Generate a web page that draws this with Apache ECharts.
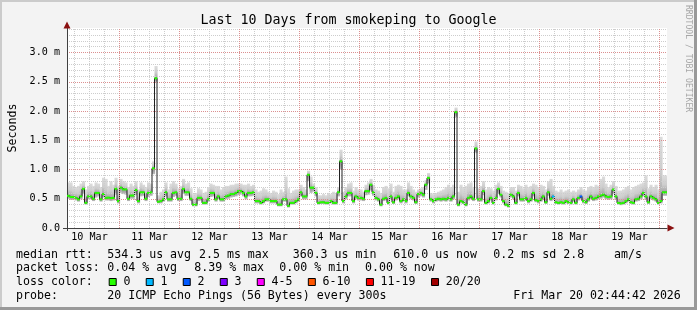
<!DOCTYPE html>
<html><head><meta charset="utf-8">
<script src="https://cdn.jsdelivr.net/npm/echarts@6/dist/echarts.min.js"></script>
<style>html,body{margin:0;padding:0;background:#f3f3f3}#c{width:697px;height:310px}</style>
</head><body><div id="c"></div>
<script>
// ---------------- data ----------------
const chartTitle = 'Last 10 Days from smokeping to Google';
const yAxisTitle = 'Seconds';
const watermark = 'RRDTOOL / TOBI OETIKER';
const dayLabels = ['10 Mar','11 Mar','12 Mar','13 Mar','14 Mar','15 Mar','16 Mar','17 Mar','18 Mar','19 Mar'];
const dayLabelHours = [12,36,60,84,108,132,156,180,204,228];   // hours since 10 Mar 00:00 (noon of each day)
const dayStartHours = [24,48,72,96,120,144,168,192,216,240];   // midnights
const yTickValues = [0,0.5,1.0,1.5,2.0,2.5,3.0];
const yTickLabels = ['0.0','0.5 m','1.0 m','1.5 m','2.0 m','2.5 m','3.0 m'];
const viewStartHour = 3, viewEndHour = 243;  // graph window, hours since 10 Mar 00:00
const dataStartHour = 3;                     // first hourly sample, hours since 10 Mar 00:00
const yMax = 3.42;                           // ms

// median round trip time per hour (ms)
const medianRtt = [
0.55,0.53,0.53,0.515,0.49,0.54,0.67,0.43,0.54,0.54,
0.50,0.60,0.60,0.49,0.58,0.515,0.52,0.51,0.515,0.67,
0.46,0.69,0.66,0.66,0.50,0.555,0.555,0.65,0.46,0.61,
0.61,0.50,0.60,0.61,1.02,2.56,0.45,0.46,0.49,0.61,
0.49,0.49,0.60,0.61,0.50,0.50,0.67,0.61,0.61,0.50,
0.40,0.40,0.515,0.515,0.43,0.43,0.49,0.60,0.60,0.49,
0.54,0.49,0.49,0.54,0.555,0.58,0.58,0.60,0.63,0.63,
0.60,0.54,0.60,0.60,0.61,0.46,0.46,0.43,0.46,0.49,
0.49,0.46,0.46,0.46,0.40,0.40,0.49,0.49,0.38,0.43,
0.43,0.46,0.49,0.61,0.54,0.54,0.91,0.69,0.69,0.60,
0.43,0.44,0.44,0.43,0.43,0.46,0.43,0.43,0.61,1.14,
0.46,0.54,0.60,0.60,0.46,0.54,0.515,0.515,0.50,0.63,
0.63,0.74,0.61,0.515,0.49,0.40,0.50,0.515,0.43,0.54,
0.44,0.515,0.54,0.46,0.49,0.46,0.60,0.54,0.515,0.44,
0.58,0.60,0.57,0.74,0.856,0.49,0.46,0.49,0.50,0.49,
0.50,0.49,0.515,0.49,0.54,1.98,0.40,0.46,0.44,0.40,
0.515,0.54,0.50,1.36,0.49,0.49,0.63,0.43,0.46,0.515,
0.43,0.515,0.67,0.57,0.46,0.40,0.38,0.57,0.54,0.43,
0.60,0.49,0.49,0.515,0.46,0.49,0.60,0.475,0.46,0.49,
0.54,0.44,0.61,0.50,0.54,0.44,0.43,0.44,0.43,0.46,
0.44,0.43,0.49,0.43,0.515,0.54,0.46,0.44,0.49,0.54,
0.50,0.515,0.54,0.555,0.57,0.54,0.53,0.54,0.657,0.54,
0.43,0.42,0.43,0.46,0.49,0.44,0.43,0.49,0.50,0.54,
0.60,0.54,0.44,0.54,0.515,0.49,0.43,0.46,0.61,0.61
];
// highest ping per hour (ms) - top of the smoke
const smokeHi = [
0.78,0.78,0.72,0.70,0.72,0.76,0.80,0.66,0.72,0.76,
0.72,0.78,0.76,0.70,0.86,0.84,0.72,0.80,0.74,0.86,
0.72,0.84,0.80,0.78,0.70,0.76,0.72,0.80,0.66,0.78,
0.74,0.70,0.78,0.76,1.14,2.77,0.56,0.62,0.66,0.78,
0.66,0.76,0.80,0.76,0.68,0.72,0.84,0.76,0.78,0.68,
0.58,0.60,0.68,0.66,0.60,0.62,0.70,0.76,0.74,0.72,
0.72,0.66,0.70,0.72,0.72,0.74,0.74,0.76,0.76,0.76,
0.74,0.74,0.76,0.72,0.74,0.66,0.62,0.64,0.68,0.66,
0.62,0.60,0.64,0.62,0.58,0.66,0.62,0.88,0.68,0.60,
0.64,0.66,0.66,0.74,0.70,0.66,0.98,0.88,0.76,0.70,
0.56,0.56,0.58,0.56,0.60,0.58,0.62,0.58,0.70,1.34,
0.62,0.70,0.76,0.78,0.64,0.70,0.66,0.66,0.62,0.74,
0.78,0.84,0.74,0.66,0.64,0.60,0.70,0.72,0.68,0.76,
0.62,0.72,0.74,0.72,0.66,0.66,0.78,0.72,0.66,0.62,
0.66,0.68,0.70,0.82,0.94,0.60,0.58,0.60,0.62,0.64,
0.66,0.70,0.74,0.70,0.74,2.06,0.62,0.74,0.70,0.72,
0.76,0.78,0.70,1.48,0.68,0.72,0.80,0.66,0.70,0.68,
0.64,0.74,0.78,0.72,0.64,0.62,0.60,0.70,0.70,0.64,
0.74,0.72,0.68,0.74,0.70,0.72,0.76,0.74,0.70,0.74,
0.72,0.66,0.80,0.84,0.72,0.64,0.62,0.66,0.62,0.64,
0.66,0.62,0.64,0.62,0.66,0.70,0.66,0.64,0.70,0.72,
0.70,0.74,0.72,0.84,0.88,0.76,0.70,0.74,0.80,0.72,
0.64,0.64,0.66,0.70,0.72,0.66,0.70,0.72,0.74,0.76,
0.78,0.90,0.68,0.74,0.70,0.74,0.66,1.56,0.90,0.90
];
// lowest ping per hour (ms) - bottom of the smoke
const smokeLo = [
0.50,0.48,0.48,0.47,0.45,0.49,0.58,0.40,0.49,0.49,
0.46,0.52,0.54,0.45,0.52,0.47,0.47,0.46,0.47,0.57,
0.42,0.60,0.58,0.57,0.46,0.50,0.50,0.56,0.42,0.54,
0.55,0.46,0.53,0.55,0.92,2.50,0.42,0.42,0.45,0.54,
0.45,0.45,0.53,0.55,0.46,0.46,0.58,0.55,0.55,0.46,
0.37,0.37,0.46,0.47,0.40,0.40,0.45,0.53,0.54,0.45,
0.49,0.45,0.45,0.49,0.50,0.52,0.53,0.54,0.56,0.57,
0.54,0.49,0.54,0.54,0.55,0.42,0.42,0.40,0.42,0.45,
0.45,0.42,0.42,0.42,0.37,0.37,0.45,0.45,0.35,0.40,
0.40,0.42,0.45,0.54,0.49,0.49,0.80,0.60,0.62,0.54,
0.40,0.41,0.41,0.40,0.40,0.42,0.40,0.40,0.54,1.00,
0.42,0.49,0.54,0.54,0.42,0.49,0.47,0.47,0.46,0.56,
0.57,0.64,0.55,0.47,0.45,0.37,0.46,0.47,0.40,0.49,
0.41,0.47,0.49,0.42,0.45,0.42,0.54,0.49,0.47,0.41,
0.52,0.54,0.52,0.65,0.76,0.45,0.42,0.45,0.46,0.45,
0.46,0.45,0.47,0.45,0.49,1.90,0.37,0.42,0.41,0.37,
0.47,0.49,0.46,1.28,0.45,0.45,0.56,0.40,0.42,0.47,
0.40,0.47,0.58,0.52,0.42,0.37,0.35,0.52,0.49,0.40,
0.54,0.45,0.45,0.47,0.42,0.45,0.54,0.44,0.42,0.45,
0.49,0.41,0.55,0.46,0.49,0.41,0.40,0.41,0.40,0.42,
0.41,0.40,0.45,0.40,0.47,0.49,0.42,0.41,0.45,0.49,
0.46,0.47,0.49,0.50,0.52,0.49,0.48,0.49,0.58,0.49,
0.40,0.39,0.40,0.42,0.45,0.41,0.40,0.45,0.46,0.49,
0.54,0.49,0.41,0.49,0.47,0.45,0.40,0.42,0.55,0.55
];
// lost pings (of 20) per hour
const lostPings = [
0,0,0,0,0,0,0,0,0,0,0,0,0,0,0,0,0,0,0,0,
0,0,0,0,0,0,0,0,0,0,0,0,0,0,0,0,0,0,0,0,
0,0,0,0,0,0,0,0,0,0,0,0,0,0,0,0,0,0,0,0,
0,0,0,0,0,0,0,0,0,0,0,0,0,0,0,0,0,0,0,0,
0,0,0,0,0,0,0,0,0,0,0,0,0,0,0,0,0,0,0,0,
0,0,0,0,0,0,0,0,0,0,0,0,0,0,0,0,0,0,0,0,
0,0,0,0,0,0,0,0,0,0,0,0,0,0,0,0,0,0,0,0,
0,0,0,0,0,0,0,0,0,0,0,0,0,0,0,0,0,0,0,0,
0,0,0,0,0,0,0,0,0,0,0,0,0,0,0,0,0,0,0,0,
0,0,0,0,0,0,0,0,0,0,0,0,0,0,1,0,0,0,0,0,
0,0,0,0,0,2,0,0,0,0,0,0,0,0,0,0,0,0,0,0,
0,0,0,0,0,0,0,0,0,0,0,0,0,0,0,0,0,0,0,0
];
// loss colour legend: [label, max lost pings in bin, colour]
const lossBins = [['0',0,'#26ff00'],['1',1,'#00b8ff'],['2',2,'#0059ff'],['3',3,'#7e00ff'],
                  ['4-5',5,'#ff00ff'],['6-10',10,'#ff5500'],['11-19',19,'#ff0000'],['20/20',20,'#a10000']];
const statRows = [
  ['median rtt:', ['534.3 us avg','2.5 ms max','360.3 us min','610.0 us now','0.2 ms sd','2.8','am/s']],
  ['packet loss:', ['0.04 % avg','8.39 % max','0.00 % min','0.00 % now']],
  ['loss color:', []],
  ['probe:', ['20 ICMP Echo Pings (56 Bytes) every 300s','Fri Mar 20 02:44:42 2026']]
];

// ---------------- layout / style ----------------
const FONT = '"DejaVu Sans Mono", monospace';
const FS = 11.6, AFS = 10.1;
const rowY = [254.5, 268.3, 282.3, 296];
const statX = [[107.3,199,292.7,393.3,493.3,563.3,614],[107.3,194.3,279.3,365],[],[107.3,513.3]];
const MINOR = '#cdcdcd', MAJOR = '#db9090';

function lossColor(n){ for (const b of lossBins) if (n <= b[1]) return b[2]; return lossBins[lossBins.length-1][2]; }

const smokeData = medianRtt.map((m,i)=>[dataStartHour+i, smokeLo[i], smokeHi[i], m]);
const bandData = medianRtt.map((m,i)=>[dataStartHour+i, m, lostPings[i]]);
const lineData = medianRtt.map((m,i)=>[dataStartHour+i, m]);
lineData.push([dataStartHour+medianRtt.length, medianRtt[medianRtt.length-1]]);

// vertical grid: every 6 h (minor), midnights (major)
const vGrid = [];
for (let h=6; h<viewEndHour; h+=6) {
  if (h <= viewStartHour) continue;
  const major = dayStartHours.indexOf(h) >= 0;
  vGrid.push({xAxis:h, lineStyle:{color: major ? MAJOR : MINOR, width:1, type:[1,1]}});
}

const chart = echarts.init(document.getElementById('c'), null, {renderer:'canvas'});

const graphics = [];
// frame
graphics.push({type:'rect', shape:{x:0,y:0,width:697,height:2}, style:{fill:'#cbcbcb'}});
graphics.push({type:'rect', shape:{x:0,y:0,width:2,height:310}, style:{fill:'#cbcbcb'}});
graphics.push({type:'rect', shape:{x:694,y:0,width:3,height:310}, style:{fill:'#999999'}});
graphics.push({type:'rect', shape:{x:0,y:307,width:697,height:3}, style:{fill:'#999999'}});
// watermark
graphics.push({type:'text', x:688.5, y:5, rotation:-Math.PI/2,
  style:{text:watermark, font:'8.1px '+FONT, fill:'#a6a6a6', align:'left', verticalAlign:'middle'}});
// stats
statRows.forEach((r,ri)=>{
  graphics.push({type:'text', style:{text:r[0], x:16, y:rowY[ri], font:FS+'px '+FONT, fill:'#000', verticalAlign:'middle'}});
  r[1].forEach((t,k)=>graphics.push({type:'text', style:{text:t, x:statX[ri][k], y:rowY[ri], font:FS+'px '+FONT, fill:'#000', verticalAlign:'middle'}}));
});
// loss colour legend
let lx = 108.7;
lossBins.forEach(b=>{
  graphics.push({type:'rect', shape:{x:lx+0.5, y:278.5, width:7, height:7}, style:{fill:b[2], stroke:'#000', lineWidth:1}});
  graphics.push({type:'text', style:{text:b[0], x:lx+14.7, y:rowY[2], font:FS+'px '+FONT, fill:'#000', verticalAlign:'middle'}});
  lx += 14.7 + b[0].length*7.02 + 15.3;
});

const axisCommon = {type:'value', min:viewStartHour, max:viewEndHour, position:'bottom', z:2};
const option = {
  animation:false,
  backgroundColor:'#f3f3f3',
  title:{text:chartTitle, left:'center', top:9, textStyle:{fontFamily:FONT, fontSize:13.3, fontWeight:'normal', color:'#000'}},
  grid:{left:67, top:28, width:600, height:200, show:true, backgroundColor:'#ffffff', borderWidth:0,
        containLabel:false, outerBoundsMode:'none'},
  xAxis:[
    Object.assign({}, axisCommon, {
      axisLine:{show:true, lineStyle:{color:'#404040', width:1}},
      axisTick:{show:false}, axisLabel:{show:false}, splitLine:{show:false}
    }),
    Object.assign({}, axisCommon, {
      axisLine:{show:true, symbol:['none','triangle'], symbolSize:[7,7], symbolOffset:[0,4], lineStyle:{color:'#8a1010', width:0}},
      axisTick:{show:false},
      axisLabel:{show:true, customValues:dayLabelHours, margin:4, fontFamily:FONT, fontSize:AFS, color:'#000',
        formatter:(v)=>dayLabels[dayLabelHours.indexOf(Math.round(v))]},
      splitLine:{show:false}
    }),
    Object.assign({}, axisCommon, {
      axisLine:{show:false}, axisLabel:{show:false}, splitLine:{show:false},
      axisTick:{show:true, customValues:[viewStartHour], length:3, lineStyle:{color:'#404040'}}
    })
  ],
  yAxis:[
    {type:'value', min:0, max:yMax, interval:0.1, position:'left', z:2,
      axisLine:{show:true, lineStyle:{color:'#404040', width:1}},
      axisTick:{show:false}, axisLabel:{show:false},
      splitLine:{show:true, showMinLine:false, showMaxLine:false, lineStyle:{color:MINOR, width:1, type:[1,1]}}},
    {type:'value', min:0, max:yMax, interval:0.5, position:'left', z:2,
      name:yAxisTitle, nameLocation:'middle', nameRotate:90, nameGap:46,
      nameTextStyle:{fontFamily:FONT, fontSize:FS, color:'#000'},
      axisLine:{show:true, symbol:['none','triangle'], symbolSize:[7,7], symbolOffset:[0,3], lineStyle:{color:'#8a1010', width:0}},
      axisTick:{show:false},
      axisLabel:{show:true, showMaxLabel:false, margin:7, fontFamily:FONT, fontSize:AFS, color:'#000',
        formatter:(v)=>{const k=yTickValues.findIndex(t=>Math.abs(t-v)<1e-6); return k<0?'':yTickLabels[k];}},
      splitLine:{show:true, showMinLine:false, showMaxLine:false, lineStyle:{color:MAJOR, width:1, type:[1,1]}}},
    {type:'value', min:0, max:yMax, position:'left', z:2,
      axisLine:{show:false}, axisLabel:{show:false}, splitLine:{show:false},
      axisTick:{show:true, customValues:[0], length:4, lineStyle:{color:'#404040'}}}
  ],
  series:[
    { // smoke
      type:'custom', xAxisIndex:0, yAxisIndex:0, z:1, data:smokeData,
      renderItem:(params, api)=>{
        const t = api.value(0), lo = api.value(1), hi = api.value(2), m = api.value(3);
        const pLo = api.coord([t, lo]), pHi = api.coord([t+1, hi]), pM = api.coord([t, m]);
        const h = Math.max(pLo[1]-pHi[1], 0.5);
        let fm = (pM[1]-pHi[1])/h; fm = Math.min(Math.max(fm,0.02),0.98);
        const cs = params.coordSys;
        const rect = echarts.graphic.clipRectByRect({x:pLo[0], y:pHi[1], width:pHi[0]-pLo[0]+0.6, height:h},
                                                    {x:cs.x, y:cs.y, width:cs.width, height:cs.height});
        if (!rect) return;
        return {type:'rect', shape:rect, style:{fill:new echarts.graphic.LinearGradient(0,0,0,1,[
          {offset:0,color:'#dcdcdc'},{offset:fm*0.55,color:'#cdcdcd'},{offset:fm*0.9,color:'#acacac'},
          {offset:fm,color:'#8e8e8e'},{offset:1,color:'#c0c0c0'}])}};
      }
    },
    { // vertical grid lines (drawn through the x scale)
      type:'line', xAxisIndex:0, yAxisIndex:0, z:2, data:[], silent:true,
      markLine:{silent:true, symbol:['none','none'], label:{show:false}, animation:false, data:vGrid}
    },
    { // median line
      type:'line', xAxisIndex:0, yAxisIndex:0, z:3, data:lineData, step:'end', showSymbol:false,
      lineStyle:{color:'#202020', width:1}, clip:true
    },
    { // loss coloured median band
      type:'custom', xAxisIndex:0, yAxisIndex:0, z:4, data:bandData,
      renderItem:(params, api)=>{
        const t = api.value(0), m = api.value(1), n = api.value(2);
        const p0 = api.coord([t, m]), p1 = api.coord([t+1, m]);
        const cs = params.coordSys;
        const rect = echarts.graphic.clipRectByRect({x:p0[0], y:p0[1]-1, width:p1[0]-p0[0]+0.2, height:2},
                                                    {x:cs.x, y:cs.y, width:cs.width, height:cs.height});
        if (!rect) return;
        return {type:'rect', shape:rect, style:{fill:lossColor(n)}};
      }
    }
  ],
  graphic:graphics
};
chart.setOption(option);
</script></body></html>
